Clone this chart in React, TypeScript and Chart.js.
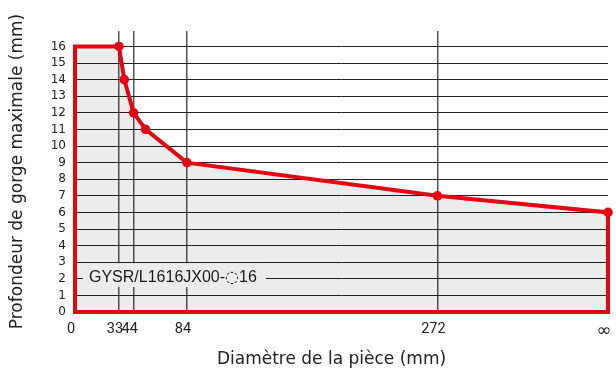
import React, { useEffect, useRef } from "react";
import { Chart, registerables } from "chart.js";

Chart.register(...registerables);

// ---- data ----
const diameters = [33, 37, 44, 53, 84, 272, 400]; // 400 stands for ∞
const depths = [16, 14, 12, 11, 9, 7, 6];
const xTickValues = [0, 33, 44, 84, 272, 400];
const xTickLabels = ["0", "33", "44", "84", "272", "∞"];
const yTickValues = [0, 1, 2, 3, 4, 5, 6, 7, 8, 9, 10, 11, 12, 13, 14, 15, 16];
const xTitle = "Diamètre de la pièce (mm)";
const yTitle = "Profondeur de gorge maximale (mm)";
const seriesLabelParts = ["GYSR/L1616JX00-", "◌", "16"];
const seriesLabelDepth = 2;

const RED = "#e30613";
const AXIS_FONT = "'DejaVu Sans'";

export default function App() {
  const ref = useRef<HTMLCanvasElement | null>(null);

  useEffect(() => {
    if (!ref.current) return;
    const xMin = 0;
    const xMax = diameters[diameters.length - 1];

    // outline: origin -> up the left side -> curve -> down the right side
    const poly: { x: number; y: number }[] = [];
    poly.push({ x: xMin, y: 0 });
    poly.push({ x: xMin, y: depths[0] });
    diameters.forEach((d, i) => poly.push({ x: d, y: depths[i] }));
    poly.push({ x: xMax, y: 0 });
    const radii = poly.map((_, i) => (i >= 2 && i < 2 + diameters.length ? 4.8 : 0));
    const baseEdge = [
      { x: xMin, y: 0 },
      { x: xMax, y: 0 },
    ];

    const overlay = {
      id: "overlay",
      afterDatasetsDraw(chart: any) {
        const { ctx, chartArea } = chart;
        const y = chart.scales.y;
        ctx.save();
        const fonts = [
          '16px "Liberation Sans", Arial, sans-serif',
          '16px "DejaVu Sans", sans-serif',
          '16px "Liberation Sans", Arial, sans-serif',
        ];
        const widths = seriesLabelParts.map((t, i) => {
          ctx.font = fonts[i];
          return ctx.measureText(t).width;
        });
        const tw = widths.reduce((a, b) => a + b, 0);
        let tx = chartArea.left + 14;
        const yTop = y.getPixelForValue(seriesLabelDepth + 1) + 1;
        const yBot = y.getPixelForValue(seriesLabelDepth - 0.5);
        ctx.fillStyle = "#ececec";
        ctx.fillRect(chartArea.left + 8, yTop, tw + 15, yBot - yTop);
        ctx.fillStyle = "#1a1a1a";
        ctx.textBaseline = "middle";
        ctx.textAlign = "left";
        const ty = y.getPixelForValue(seriesLabelDepth) - 1;
        seriesLabelParts.forEach((t, i) => {
          ctx.font = fonts[i];
          ctx.fillText(t, tx, ty);
          tx += widths[i];
        });

        ctx.font = `17px ${AXIS_FONT}`;
        ctx.textAlign = "center";
        ctx.textBaseline = "alphabetic";
        ctx.fillStyle = "#222";
        ctx.fillText(xTitle, (chartArea.left + chartArea.right) / 2 - 10, chart.height - 5);
        ctx.restore();
      },
    };

    const chart = new Chart(ref.current, {
      type: "line",
      data: {
        datasets: [
          {
            data: poly,
            borderColor: RED,
            borderWidth: 4,
            backgroundColor: "rgba(0,0,0,0.075)",
            fill: "origin",
            tension: 0,
            clip: false,
            borderJoinStyle: "miter",
            pointRadius: radii,
            pointHoverRadius: radii,
            pointBackgroundColor: RED,
            pointBorderColor: RED,
            pointBorderWidth: 0,
          },
          {
            data: baseEdge,
            borderColor: RED,
            borderWidth: 4,
            fill: false,
            clip: false,
            pointRadius: 0,
            borderCapStyle: "square",
          },
        ],
      },
      options: {
        animation: false,
        responsive: false,
        events: [],
        layout: { padding: { left: 0, right: 8, top: 31, bottom: 0 } },
        plugins: { legend: { display: false }, tooltip: { enabled: false } },
        scales: {
          x: {
            type: "linear",
            min: xMin,
            max: xMax,
            border: { display: false },
            afterBuildTicks: (s: any) => {
              s.ticks = xTickValues.map((v) => ({ value: v }));
            },
            afterFit: (s: any) => {
              s.height = 57;
              s.paddingLeft = 0;
              s.paddingRight = 0;
            },
            grid: {
              drawTicks: false,
              color: (c: any) =>
                c.tick && c.tick.value > xMin && c.tick.value < xMax ? "#555" : "rgba(0,0,0,0)",
              lineWidth: 1.5,
            },
            ticks: {
              autoSkip: false,
              maxRotation: 0,
              padding: 9,
              labelOffset: -4,
              color: "#222",
              font: (c: any) =>
                c.tick && c.tick.value === xMax
                  ? { family: AXIS_FONT, size: 18 }
                  : { family: "Roboto", size: 14.5 },
              callback: (v: any) => {
                const i = xTickValues.indexOf(Number(v));
                return i >= 0 ? xTickLabels[i] : "";
              },
            },
          },
          y: {
            type: "linear",
            min: 0,
            max: 16.93,
            border: { display: false },
            afterBuildTicks: (s: any) => {
              s.ticks = yTickValues.map((v) => ({ value: v }));
            },
            afterFit: (s: any) => {
              s.width = 75;
            },
            grid: {
              drawTicks: false,
              color: "#222",
              lineWidth: 1,
            },
            ticks: {
              autoSkip: false,
              padding: 9,
              color: "#222",
              font: { family: AXIS_FONT, size: 12 },
            },
            title: {
              display: true,
              text: yTitle,
              color: "#222",
              font: { family: AXIS_FONT, size: 17 },
              padding: { top: 7, bottom: 0 },
            },
          },
        },
      },
      plugins: [overlay],
    });
    return () => chart.destroy();
  }, []);

  return (
    <div style={{ position: "fixed", left: 0, top: 0, width: 616, height: 369, background: "#fff" }}>
      <canvas ref={ref} width={616} height={369} />
    </div>
  );
}
